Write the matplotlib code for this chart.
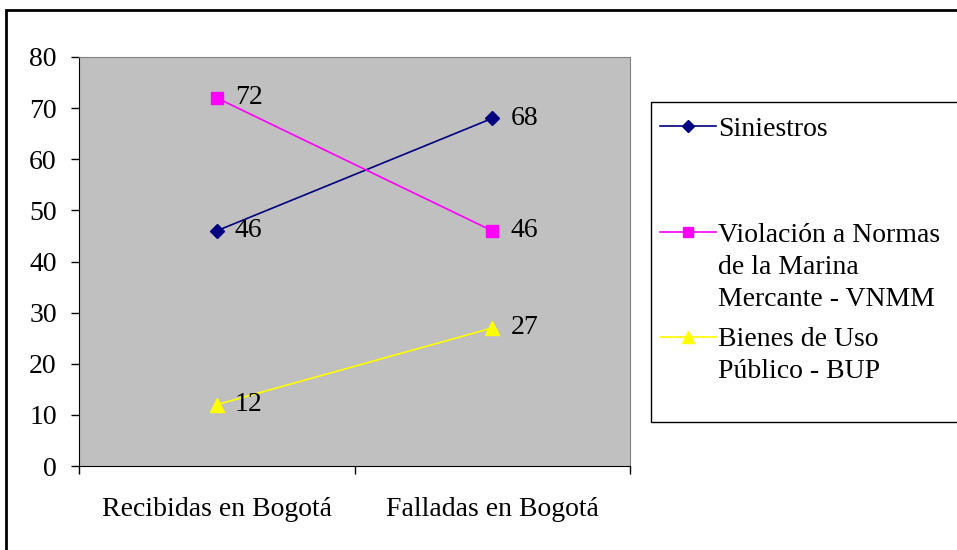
import matplotlib.pyplot as plt
from matplotlib.patches import Rectangle
from matplotlib.lines import Line2D

categories = ["Recibidas en Bogotá", "Falladas en Bogotá"]
siniestros = [46, 68]
vnmm = [72, 46]
bup = [12, 27]
series_names = ["Siniestros",
                "Violación a Normas\nde la Marina\nMercante - VNMM",
                "Bienes de Uso\nPúblico - BUP"]
colors = ['#000080', '#FF00FF', '#FFFF00']
markers = ['D', 's', '^']
msizes = [7.5, 9, 10]

plt.rcParams['font.family'] = ['Liberation Serif', 'DejaVu Serif']
FS = 20

W, H = 957, 550
fig = plt.figure(figsize=(W / 100, H / 100), dpi=100)


def fx(px):
    return px / W


def fy(py):
    return 1 - py / H


# outer chart border
fig.patches.append(Rectangle((fx(6), -0.1), 1.2, fy(10) + 0.1,
                             transform=fig.transFigure, fill=False,
                             edgecolor='black', linewidth=2))

ax = fig.add_axes([fx(79), fy(466), fx(630 - 79), (466 - 57) / H])
ax.set_facecolor('#C0C0C0')
x = [0, 1]
for ys, c, m, ms in zip((siniestros, vnmm, bup), colors, markers, msizes):
    ax.plot(x, ys, color=c, marker=m, markersize=ms, lw=1.2)
    for xi, yi in zip(x, ys):
        ax.annotate(str(yi), (xi, yi), xytext=(13, 0), textcoords='offset points',
                    va='center', ha='left', fontsize=FS)

ax.set_xlim(-0.5, 1.5)
ax.set_ylim(0, 80)
ax.set_yticks(range(0, 81, 10))
ax.set_xticks([-0.5, 0.5, 1.5])
ax.set_xticklabels([])
ax.set_xticks([0, 1], minor=True)
ax.set_xticklabels(categories, minor=True, fontsize=FS)
ax.tick_params(axis='x', which='minor', length=0, pad=22)
ax.tick_params(axis='x', which='major', direction='out', length=6, width=1)
ax.tick_params(axis='y', direction='out', length=6, width=1, labelsize=FS, pad=10)
for s in ('top', 'right'):
    ax.spines[s].set_color('#808080')
ax.spines['left'].set_color('black')
ax.spines['bottom'].set_color('black')

# legend drawn by hand to copy the spaced-out layout
fig.patches.append(Rectangle((fx(651), fy(422)), 1.0, (422 - 102) / H,
                             transform=fig.transFigure, fill=True,
                             facecolor='white', edgecolor='black', linewidth=1))
entry_y = [126, 232, 337]
line_px = 32
for name, c, m, ms, ey in zip(series_names, colors, markers, msizes, entry_y):
    fig.lines.append(Line2D([fx(660), fx(716)], [fy(ey), fy(ey)],
                            transform=fig.transFigure, color=c, lw=1.2))
    fig.lines.append(Line2D([fx(688)], [fy(ey)], transform=fig.transFigure,
                            color=c, marker=m, markersize=ms * 0.85, lw=0))
    for k, part in enumerate(name.split('\n')):
        fig.text(fx(718), fy(ey + k * line_px), part, fontsize=FS,
                 va='center_baseline', ha='left')

fig.savefig('out.png', dpi=100)
